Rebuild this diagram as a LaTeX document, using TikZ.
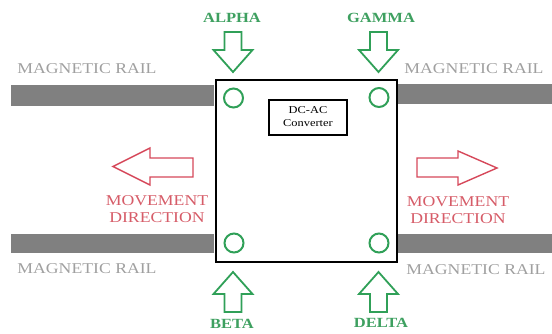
\documentclass[tikz,border=0pt]{standalone}
\usepackage{fontspec}
\setmainfont{Liberation Serif}
\definecolor{wheelgreen}{RGB}{48,160,88}
\definecolor{labelgreen}{RGB}{62,160,96}
\definecolor{moved}{RGB}{214,72,90}
\definecolor{movetext}{RGB}{214,92,104}
\definecolor{railgray}{RGB}{128,128,128}
\definecolor{railtext}{RGB}{160,160,160}
\begin{document}
\begin{tikzpicture}[x=1pt,y=-1pt,
  railtxt/.style={text=railtext,font=\fontsize{15}{15}\selectfont,xscale=1.18,inner sep=0pt},
  movetxt/.style={text=movetext,font=\fontsize{15}{17}\selectfont,xscale=1.18,align=center,inner sep=0pt},
  wheeltxt/.style={text=labelgreen,font=\fontsize{14}{14}\selectfont\bfseries,xscale=1.18,inner sep=0pt},
  wheel/.style={circle,draw=wheelgreen,line width=2pt,minimum size=19pt,inner sep=0pt},
  rail/.style={fill=railgray,draw=none},
  greenarrow/.style={draw=wheelgreen,line width=1.8pt,line join=miter,fill=white},
  redarrow/.style={draw=moved,line width=1.4pt,line join=miter,fill=white},
  pics/blockdown/.style={code={
    \draw[greenarrow] (-8.5,0) -- (8.5,0) -- (8.5,18) -- (19.5,18) -- (0,40)
      -- (-19.5,18) -- (-8.5,18) -- cycle;}}
]
\useasboundingbox (0,0) rectangle (552,333);

% magnetic rails
\fill[rail] (11,85) rectangle (214,106);
\fill[rail] (398,84) rectangle (552,104);
\fill[rail] (11,234) rectangle (214,253);
\fill[rail] (398,234) rectangle (552,253);

% vehicle body
\node[draw,line width=2.5pt,minimum width=181pt,minimum height=182pt,inner sep=0pt] (body) at (306.5,171) {};

% converter
\node[draw,line width=2pt,minimum width=66pt,minimum height=35pt,inner sep=0pt,
      align=center,font=\fontsize{10.5}{13}\selectfont,xscale=1.18] (conv) at (308,117)
      {DC-AC\\Converter};

% wheels
\node[wheel] (wa) at (233.5,98) {};
\node[wheel] (wg) at (379,97.5) {};
\node[wheel] (wb) at (234,243) {};
\node[wheel] (wd) at (379,243) {};

% force arrows
\pic at (233,32) {blockdown};
\pic at (378.5,32) {blockdown};
\pic[rotate=180] at (233,312) {blockdown};
\pic[rotate=180] at (378.5,312) {blockdown};

% movement arrows
\draw[redarrow] (193,158) -- (150,158) -- (150,148) -- (113,166.5) -- (150,185)
  -- (150,177) -- (193,177) -- cycle;
\draw[redarrow] (417,158) -- (458,158) -- (458,151) -- (497,168) -- (458,185)
  -- (458,177) -- (417,177) -- cycle;

% labels
\node[wheeltxt] (la) at (232,18) {ALPHA};
\node[wheeltxt] (lg) at (381,18) {GAMMA};
\node[wheeltxt] (lb) at (232,324) {BETA};
\node[wheeltxt] (ld) at (381,323) {DELTA};

\node[railtxt] (r1) at (87,69) {MAGNETIC RAIL};
\node[railtxt] (r2) at (474,69) {MAGNETIC RAIL};
\node[railtxt] (r3) at (87,269) {MAGNETIC RAIL};
\node[railtxt] (r4) at (476,270) {MAGNETIC RAIL};

\node[movetxt] (m1) at (157,209) {MOVEMENT\\DIRECTION};
\node[movetxt] (m2) at (458,210) {MOVEMENT\\DIRECTION};
\end{tikzpicture}
\end{document}
